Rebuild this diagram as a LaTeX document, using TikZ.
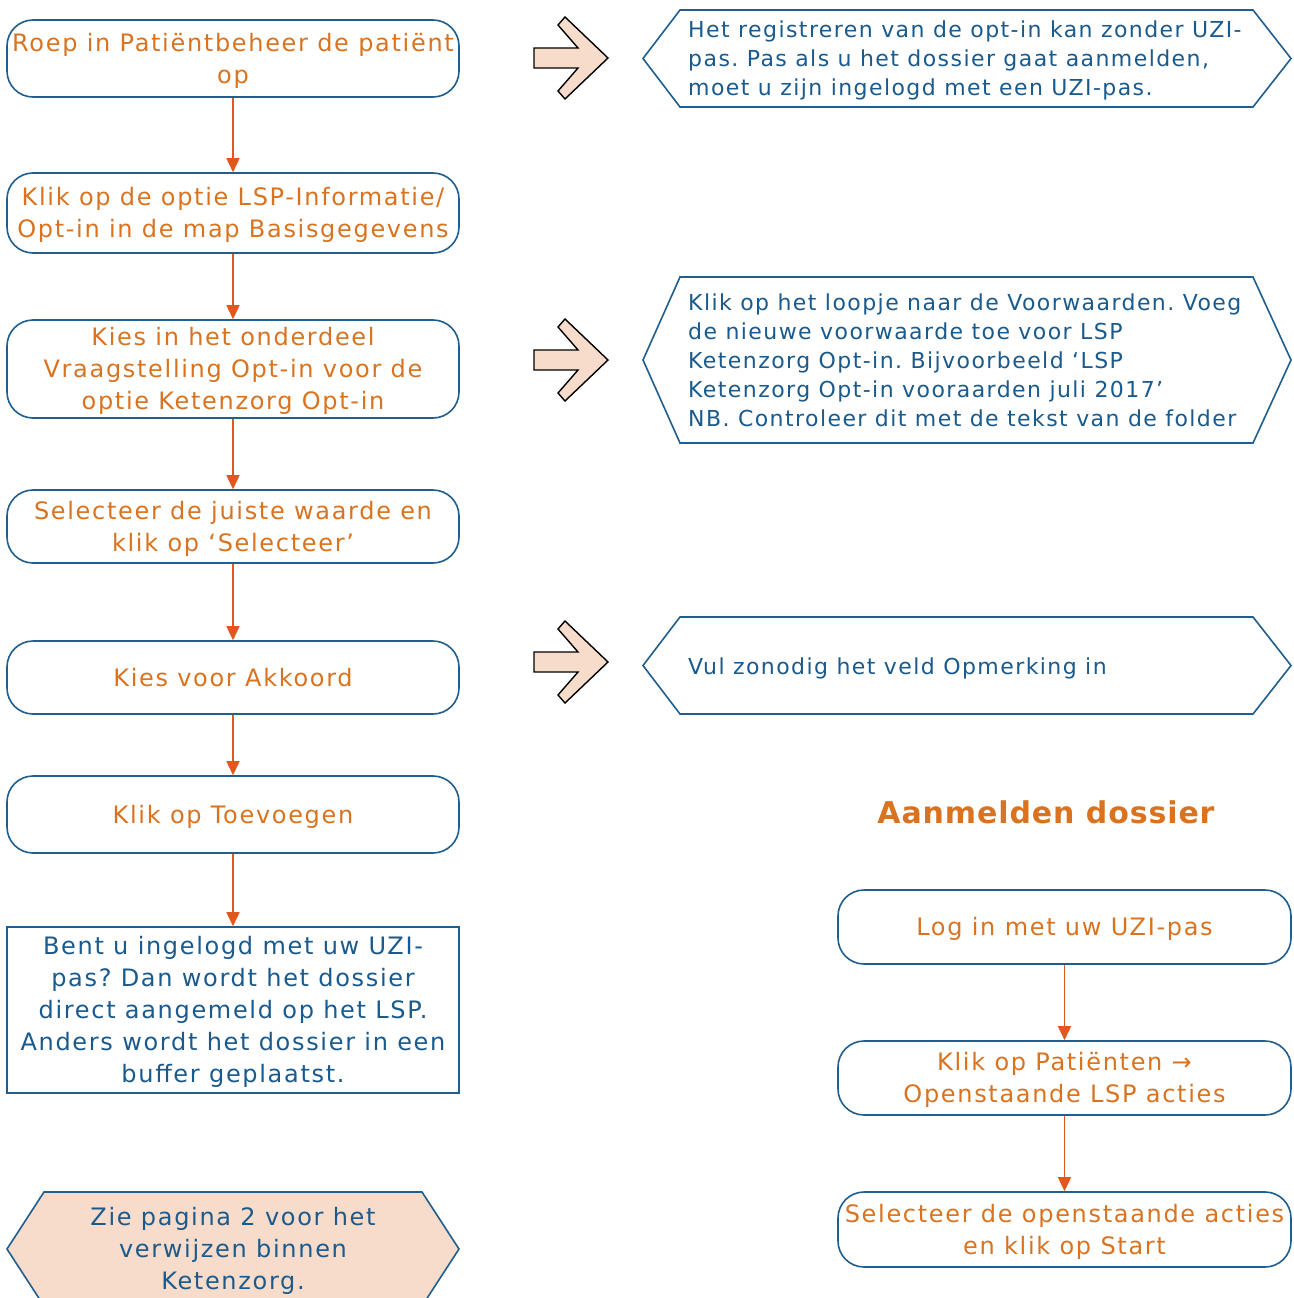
\documentclass[tikz,border=0pt]{standalone}
\usepackage{fontspec}
\setmainfont{DejaVu Sans}
\newfontfamily\leftfont[LetterSpace=7]{DejaVu Sans}
\newfontfamily\rightfont[LetterSpace=6.5]{DejaVu Sans}
\newfontfamily\headfont[LetterSpace=3]{DejaVu Sans Bold}
\usetikzlibrary{arrows.meta}
\definecolor{boxblue}{HTML}{1F5E8E}
\definecolor{txtblue}{HTML}{1A5A8C}
\definecolor{txtorange}{HTML}{D9731F}
\definecolor{arrorange}{HTML}{E0581C}
\definecolor{peach}{HTML}{F8DCCB}
\newcommand\mycentered[1]{\begin{tabular}{@{}c@{}}\rule{0pt}{27.4pt}#1\end{tabular}}
\newcommand\myleftlines[1]{\begin{tabular}{@{}l@{}}\rule{0pt}{25.3pt}#1\end{tabular}}
\frenchspacing
\begin{document}
\begin{tikzpicture}[x=1pt,y=-1pt,
  rbox/.style={draw=boxblue, line width=1.6pt, rounded corners=26pt, fill=white,
    minimum width=452pt, text=txtorange, inner sep=0pt,
    font=\leftfont\fontsize{24}{32}\selectfont},
  sbox/.style={draw=boxblue, line width=1.6pt, fill=white,
    minimum width=452pt, text=txtblue, inner sep=0pt,
    font=\leftfont\fontsize{24}{32}\selectfont},
  hexline/.style={draw=boxblue, line width=1.6pt, line join=miter},
  hextxt/.style={text=txtblue, inner sep=0pt, anchor=west,
    font=\rightfont\fontsize{22}{29}\selectfont},
  flow/.style={draw=arrorange, line width=1.6pt, -{Triangle[length=14pt,width=13pt]}},
  barrow/.style={draw=black, fill=peach, line width=1.4pt, line join=miter},
  heading/.style={text=txtorange, font=\headfont\fontsize{30}{34}\selectfont, inner sep=0pt}
]
\clip (0,0) rectangle (1293,1298);
\fill[white] (0,0) rectangle (1293,1298);

% left column
\node[rbox, minimum height=77pt] (b1) at (233,58.5) {\mycentered{Roep in Patiëntbeheer de patiënt\\op}};
\node[rbox, minimum height=80pt] (b2) at (233,213) {\mycentered{Klik op de optie LSP-Informatie/\\Opt-in in de map Basisgegevens}};
\node[rbox, minimum height=98pt, inner ysep=-2.5pt] (b3) at (233,369) {\mycentered{Kies in het onderdeel\\Vraagstelling Opt-in voor de\\optie Ketenzorg Opt-in}};
\node[rbox, minimum height=73pt] (b4) at (233,526.5) {\mycentered{Selecteer de juiste waarde en\\klik op ‘Selecteer’}};
\node[rbox, minimum height=73pt] (b5) at (233,677.5) {\mycentered{Kies voor Akkoord}};
\node[rbox, minimum height=77pt] (b6) at (233,814.5) {\mycentered{Klik op Toevoegen}};
\node[sbox, minimum height=166pt] (b7) at (233,1010) {\mycentered{Bent u ingelogd met uw UZI-\\pas? Dan wordt het dossier\\direct aangemeld op het LSP.\\Anders wordt het dossier in een\\buffer geplaatst.}};

\draw[flow] (b1) -- (b2);
\draw[flow] (b2) -- (b3);
\draw[flow] (b3) -- (b4);
\draw[flow] (b4) -- (b5);
\draw[flow] (b5) -- (b6);
\draw[flow] (b6) -- (b7);

% bottom hexagon
\draw[hexline, fill=peach] (7,1249) -- (44,1192) -- (422,1192) -- (459,1249) -- (422,1306) -- (44,1306) -- cycle;
\node[text=txtblue, inner sep=0pt, font=\leftfont\fontsize{24}{32}\selectfont] (h4) at (233,1249) {\mycentered{Zie pagina 2 voor het\\verwijzen binnen\\Ketenzorg.}};

% block arrows
\foreach \cy in {58,360,662}{
  \draw[barrow] (534,\cy-10) -- (578,\cy-10) -- (558,\cy-33) -- (565,\cy-41) -- (608,\cy)
     -- (565,\cy+41) -- (558,\cy+33) -- (578,\cy+10) -- (534,\cy+10) -- cycle;
}

% right hexagons
\draw[hexline, fill=white] (643,58.5) -- (680,10) -- (1253,10) -- (1291,58.5) -- (1253,107) -- (680,107) -- cycle;
\node[hextxt] (h1) at (688,58.5) {\myleftlines{Het registreren van de opt-in kan zonder UZI-\\pas. Pas als u het dossier gaat aanmelden,\\moet u zijn ingelogd met een UZI-pas.}};

\draw[hexline, fill=white] (643,360) -- (680,277) -- (1253,277) -- (1291,360) -- (1253,443) -- (680,443) -- cycle;
\node[hextxt] (h2) at (688,360.5) {\myleftlines{Klik op het loopje naar de Voorwaarden. Voeg\\de nieuwe voorwaarde toe voor LSP\\Ketenzorg Opt-in. Bijvoorbeeld ‘LSP\\Ketenzorg Opt-in vooraarden juli 2017’\\NB. Controleer dit met de tekst van de folder}};

\draw[hexline, fill=white] (643,665.5) -- (680,617) -- (1253,617) -- (1291,665.5) -- (1253,714) -- (680,714) -- cycle;
\node[hextxt] (h3) at (688,666) {\myleftlines{Vul zonodig het veld Opmerking in}};

% heading
\node[heading] (hd) at (1046,812) {Aanmelden dossier};

% right column
\node[rbox, minimum width=453pt, minimum height=74pt] (r1) at (1064.5,927) {\mycentered{Log in met uw UZI-pas}};
\node[rbox, minimum width=453pt, minimum height=74pt] (r2) at (1064.5,1078) {\mycentered{Klik op Patiënten →\\Openstaande LSP acties}};
\node[rbox, minimum width=453pt, minimum height=75pt] (r3) at (1064.5,1229.5) {\mycentered{Selecteer de openstaande acties\\en klik op Start}};
\draw[flow] (r1) -- (r2);
\draw[flow] (r2) -- (r3);
\end{tikzpicture}
\end{document}
